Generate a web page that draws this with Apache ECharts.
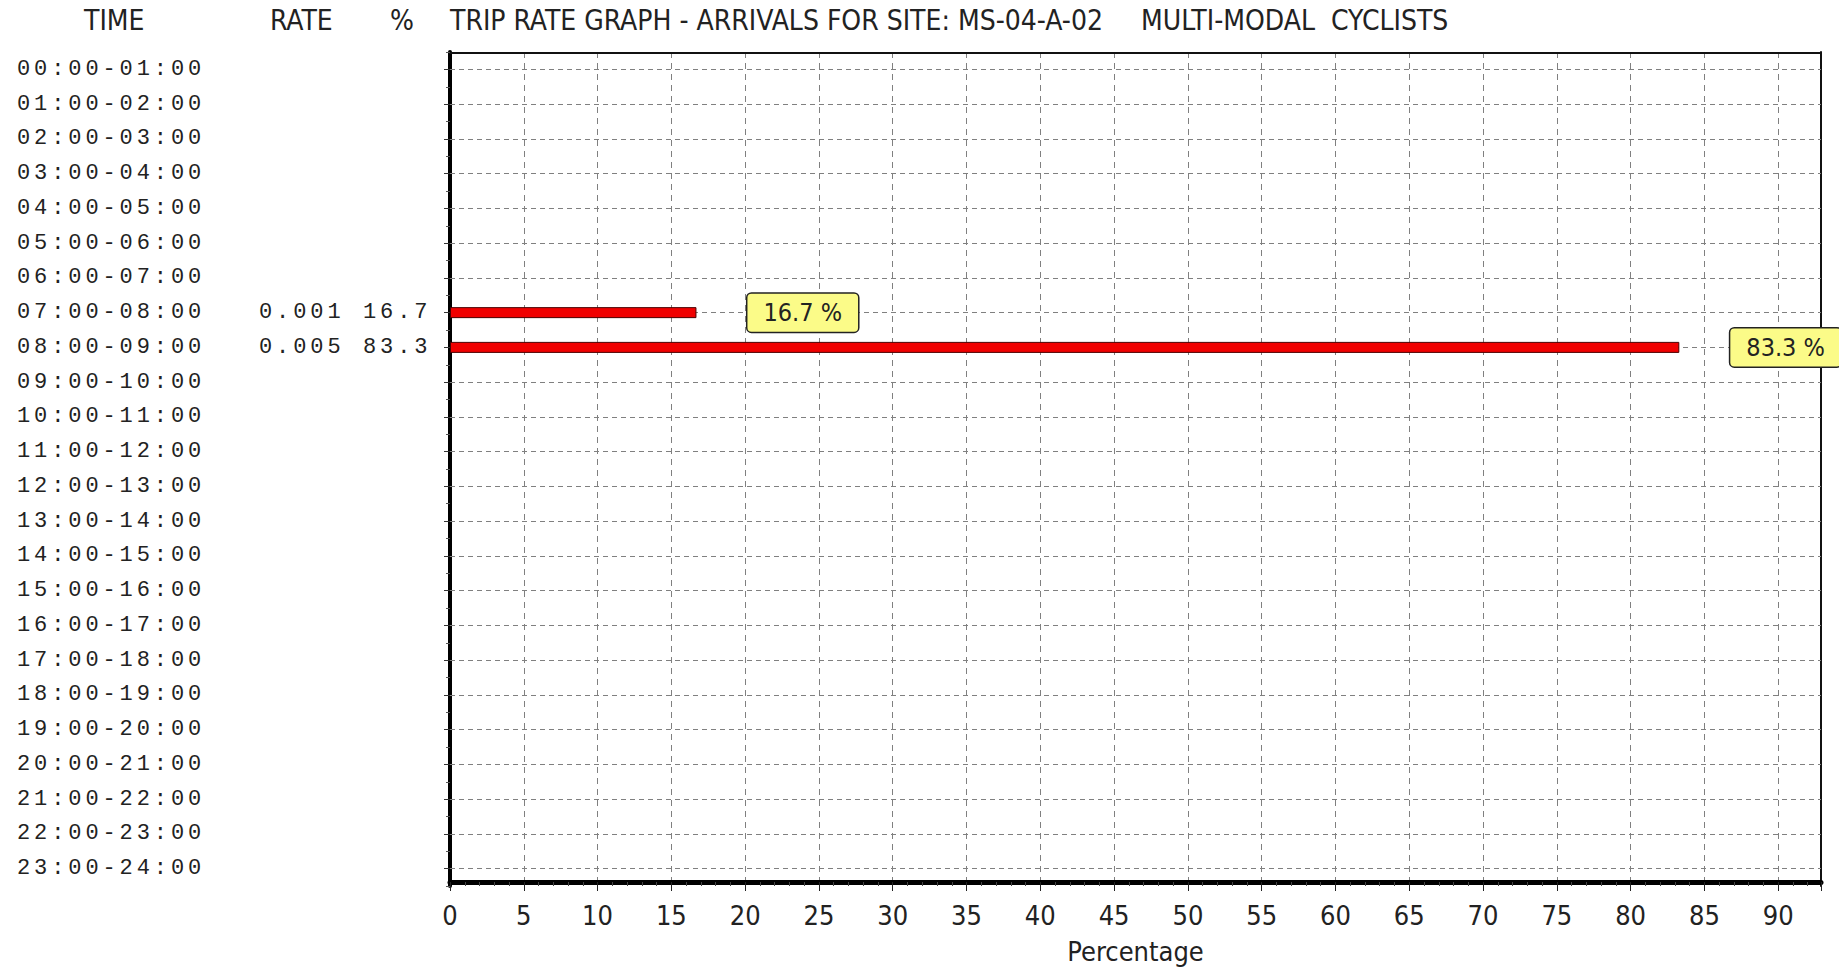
<!DOCTYPE html>
<html><head><meta charset="utf-8">
<script src="https://cdn.jsdelivr.net/npm/echarts@6/dist/echarts.min.js"></script>
<style>
html,body{margin:0;padding:0;background:#fff;}
#c{width:1839px;height:969px;}
#c text[style*="Liberation Mono"]{letter-spacing:3.9px;}
</style></head><body><div id="c"></div>
<script>
const categories = ['00:00-01:00','01:00-02:00','02:00-03:00','03:00-04:00','04:00-05:00','05:00-06:00',
  '06:00-07:00','07:00-08:00','08:00-09:00','09:00-10:00','10:00-11:00','11:00-12:00',
  '12:00-13:00','13:00-14:00','14:00-15:00','15:00-16:00','16:00-17:00','17:00-18:00',
  '18:00-19:00','19:00-20:00','20:00-21:00','21:00-22:00','22:00-23:00','23:00-24:00'];
const rates = ['','','','','','','','0.001','0.005','','','','','','','','','','','','','','',''];
const percentages = [null,null,null,null,null,null,null,16.7,83.3,null,null,null,null,null,null,null,null,null,null,null,null,null,null,null];
const headerTexts = ['TIME','RATE','%','TRIP RATE GRAPH - ARRIVALS FOR SITE: MS-04-A-02','MULTI-MODAL  CYCLISTS'];
const xMin = 0, xMax = 92.9, xStep = 5;
const xAxisName = 'Percentage';

const NARROW = "'Liberation Sans Narrow','DejaVu Sans Condensed','Liberation Sans',sans-serif";
const MONO = "'Liberation Mono',monospace";
const GRID = {left:450, top:52, width:1371, height:834, outerBoundsMode:'none', containLabel:false};

const chart = echarts.init(document.getElementById('c'), null, {renderer:'svg'});
const headerLeft = [84, 270, 390, 450, 1141];
const option = {
  animation:false,
  backgroundColor:'#fff',
  title: headerTexts.map((t,i)=>({text:t, left:headerLeft[i], top:6, padding:0,
    textStyle:{fontFamily:NARROW, fontSize:28, fontWeight:'normal', color:'#222'}})),
  grid: GRID,
  xAxis: [{
    type:'value', min:xMin, max:xMax, interval:xStep, position:'bottom', offset:-4,
    axisLine:{show:true, lineStyle:{color:'#000', width:5}},
    axisTick:{show:true, length:9, lineStyle:{color:'#222', width:1}},
    minorTick:{show:true, splitNumber:5, length:4, lineStyle:{color:'#444', width:1}},
    splitLine:{show:true, lineStyle:{color:'#808080', width:1, type:[6,5]}},
    axisLabel:{fontFamily:NARROW, fontSize:27, color:'#222', margin:20, showMaxLabel:false},
    name:xAxisName, nameLocation:'middle', nameGap:56,
    nameTextStyle:{fontFamily:NARROW, fontSize:27, color:'#222'}
  },{
    type:'value', min:xMin, max:xMax, position:'top', offset:-1,
    axisLine:{show:true, lineStyle:{color:'#111', width:2}},
    axisTick:{show:false}, axisLabel:{show:false}, splitLine:{show:false}
  }],
  yAxis: [{
    type:'category', data:categories, inverse:true, boundaryGap:true, position:'left',
    axisLine:{show:true, lineStyle:{color:'#000', width:4}},
    axisTick:{show:true, alignWithLabel:true, inside:true, length:GRID.width,
      lineStyle:{color:'#808080', width:1, type:[5,4]}},
    splitLine:{show:false},
    axisLabel:{align:'left', margin:433,
      formatter:(v,i)=>{
        let s='{t|'+v+'}';
        if(rates[i]) s+='{r|'+rates[i]+'}{p|'+percentages[i].toFixed(1)+'}';
        return s;
      },
      rich:{
        t:{width:242, fontFamily:MONO, fontSize:22, color:'#222'},
        r:{width:104, fontFamily:MONO, fontSize:22, color:'#222'},
        p:{fontFamily:MONO, fontSize:22, color:'#222'}
      }}
  },{
    type:'category', data:categories, inverse:true, position:'left',
    axisLine:{show:false}, axisLabel:{show:false}, splitLine:{show:false},
    axisTick:{show:true, alignWithLabel:true, length:6, lineStyle:{color:'#333'}}
  },{
    type:'category', data:categories, inverse:true, position:'left',
    axisLine:{show:false}, axisLabel:{show:false}, splitLine:{show:false},
    axisTick:{show:true, length:4, lineStyle:{color:'#555'}}
  },{
    type:'category', data:categories, inverse:true, position:'right',
    axisLine:{show:true, lineStyle:{color:'#111', width:2}},
    axisLabel:{show:false}, axisTick:{show:false}, splitLine:{show:false}
  }],
  series: [{
    type:'bar', xAxisIndex:0, yAxisIndex:0, data:percentages, barWidth:11,
    itemStyle:{color:'#f00000', borderColor:'#4a0000', borderWidth:1},
    label:{show:true, position:'right', distance:51,
      formatter:p=>p.value+' %',
      fontFamily:NARROW, fontSize:25, color:'#222',
      backgroundColor:'#fbfb88', borderColor:'#222', borderWidth:1.5, borderRadius:4,
      padding:[7,16,6,16]}
  }]
};
chart.setOption(option);
</script></body></html>
